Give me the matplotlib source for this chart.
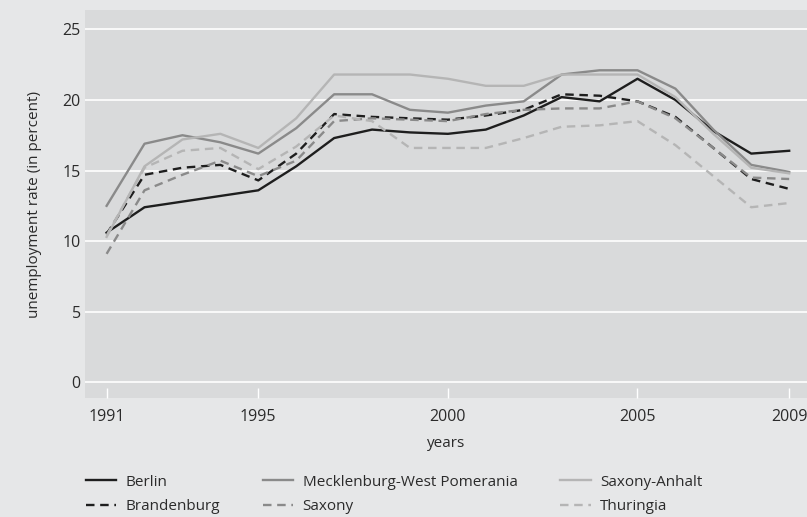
import matplotlib
matplotlib.use("Agg")
import matplotlib.pyplot as plt

# unemployment rates, east German states, 1991-2009
years = list(range(1991, 2010))
berlin = [10.6, 12.4, 12.8, 13.2, 13.6, 15.3, 17.3, 17.9, 17.7, 17.6, 17.9, 18.9,
          20.2, 19.9, 21.5, 20.0, 17.8, 16.2, 16.4]
brandenburg = [10.5, 14.7, 15.2, 15.4, 14.3, 16.2, 19.0, 18.8, 18.7, 18.6, 18.9, 19.3,
               20.4, 20.3, 19.9, 18.8, 16.6, 14.4, 13.7]
meck_pom = [12.5, 16.9, 17.5, 17.0, 16.2, 18.0, 20.4, 20.4, 19.3, 19.1, 19.6, 19.9,
            21.8, 22.1, 22.1, 20.8, 17.9, 15.4, 14.9]
saxony = [9.1, 13.6, 14.7, 15.7, 14.6, 15.7, 18.5, 18.7, 18.6, 18.5, 19.0, 19.3,
          19.4, 19.4, 19.9, 18.7, 16.6, 14.5, 14.4]
saxony_anhalt = [10.3, 15.3, 17.2, 17.6, 16.6, 18.7, 21.8, 21.8, 21.8, 21.5, 21.0, 21.0,
                 21.8, 21.8, 21.8, 20.2, 17.6, 15.2, 14.8]
thuringia = [10.4, 15.2, 16.4, 16.6, 15.1, 16.7, 18.9, 18.5, 16.6, 16.6, 16.6, 17.3,
             18.1, 18.2, 18.5, 16.8, 14.6, 12.4, 12.7]

plt.rcParams['font.family'] = ['Open Sans', 'DejaVu Sans']
txt = '#2b2b2b'

fig = plt.figure(figsize=(8.07, 5.17), dpi=100, facecolor='#e6e7e8')
ax = fig.add_axes([85/807, 119/517, 722/807, 388/517])
ax.set_facecolor('#d9dadb')

dark, mid, light = '#1e1e1e', '#8a8a8a', '#b5b5b5'
dash = (0, (3.6, 2.4))
lw = 1.7
ax.plot(years, berlin, color=dark, lw=lw, label='Berlin')
ax.plot(years, brandenburg, color=dark, lw=lw, ls=dash, label='Brandenburg')
ax.plot(years, meck_pom, color=mid, lw=lw, label='Mecklenburg-West Pomerania')
ax.plot(years, saxony, color=mid, lw=lw, ls=dash, label='Saxony')
ax.plot(years, saxony_anhalt, color=light, lw=lw, label='Saxony-Anhalt')
ax.plot(years, thuringia, color=light, lw=lw, ls=dash, label='Thuringia')

ax.set_xlim(1990.43, 2009.47)
ax.set_ylim(-1.11, 26.37)
ax.set_xticks([1991, 1995, 2000, 2005, 2009])
ax.set_yticks([0, 5, 10, 15, 20, 25])
ax.grid(axis='y', color='white', lw=1.2)
ax.set_axisbelow(True)
for s in ax.spines.values():
    s.set_visible(False)
ax.tick_params(axis='x', direction='in', length=7, width=1, color='white',
               labelsize=11.5, labelcolor=txt, pad=8)
ax.tick_params(axis='y', length=0, labelsize=11.5, labelcolor=txt, pad=3)

ax.set_xlabel('years', fontsize=11, color=txt, labelpad=8)
ax.set_ylabel('unemployment rate (in percent)', fontsize=11, color=txt)
ax.yaxis.set_label_coords(-0.0596, 0.5)

fig.legend(loc='upper left', bbox_to_anchor=(72/807, 1 - 461/517), ncol=3,
           frameon=False, fontsize=11, handlelength=2.0, handletextpad=0.6,
           columnspacing=2.8, labelspacing=0.62, labelcolor=txt)

fig.savefig('out.png', dpi=100, facecolor=fig.get_facecolor())
